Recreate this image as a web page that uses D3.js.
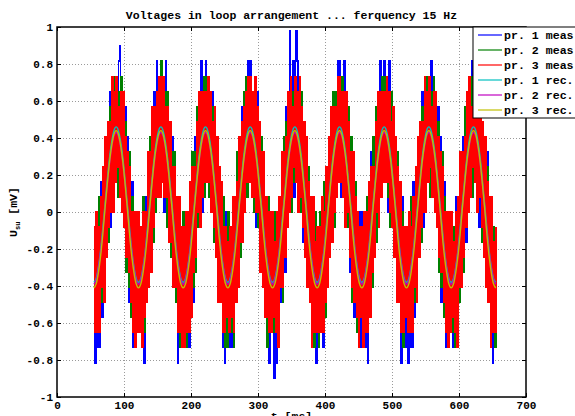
<!DOCTYPE html>
<html>
<head>
<meta charset="utf-8">
<script src="https://cdn.jsdelivr.net/npm/d3@7"></script>
<style>
  body { margin: 0; background: #fff; }
  svg { display: block; font-family: "Liberation Mono", "DejaVu Sans Mono", monospace; font-weight: bold; }
</style>
</head>
<body>
<div id="chart"></div>
<script>
// chart values
let title = "Voltages in loop arrangement ... ferquency 15 Hz";
let xTicks = [0, 100, 200, 300, 400, 500, 600, 700];
let yTicks = [-1, -0.8, -0.6, -0.4, -0.2, 0, 0.2, 0.4, 0.6, 0.8, 1];
let legendNames = ["pr. 1 meas", "pr. 2 meas", "pr. 3 meas", "pr. 1 rec.", "pr. 2 rec.", "pr. 3 rec."];

// sampling of the traces [ms] and the quantisation step of the measured ones [mV]
let tStart = 55;
let measStep = 5 / 3;
let recStep = 10 / 3;
let lsb = 0.0815;

// measured traces, in quantisation steps (one row = one period of 15 Hz)
let meas1 = [
  -1,-10,0,-9,0,-9,2,-7,3,-4,3,-3,6,0,8,-1,8,1,8,2,8,2,10,11,8,0,6,-1,7,-3,5,-6,3,-6,2,-9,-1,-9,-1,-7,
  0,-7,-2,-9,0,-10,1,-5,4,-5,4,-3,5,-1,8,0,10,1,7,3,10,2,8,0,10,1,7,-1,6,-3,5,-5,2,-6,1,-10,1,-9,-2,-9,
  -1,-9,0,-9,-1,-9,1,-5,3,-6,5,-3,6,-1,6,0,10,0,8,2,10,3,7,1,8,0,8,-1,5,-3,4,-4,3,-6,0,-9,0,-10,0,-9,
  -1,-9,-1,-9,1,-9,0,-6,3,-5,5,-3,7,-2,7,0,7,1,10,2,10,2,8,1,8,-1,8,0,6,-3,4,-5,4,-6,1,-7,0,-10,-1,-7,
  0,-11,-1,-10,0,-7,0,-6,4,-5,4,-4,7,-1,7,12,8,1,10,1,10,12,10,1,7,1,7,-2,6,-2,3,-5,3,-5,1,-9,1,-9,-1,-10,
  -2,-9,-1,-7,1,-9,1,-6,2,-5,5,-2,6,-2,7,0,8,2,10,2,10,1,8,1,10,0,7,0,6,-4,4,-5,4,-7,1,-7,0,-9,0,-9,
  0,-7,-2,-9,0,-10,1,-5,4,-5,4,-3,5,-1,8,0,10,1,7,3,10,2,8,0,10,1,7,-1,6,-3,5,-5,2,-6,1,-10,1,-9,-2,-9,
  -1,-10,0,-9,0,-9,2,-7,3,-4,3,-3,6,0,8,-1,8,1,8,2,8,2,10,2,8,0,6,-1,7,-3,5,-6,3,-6,2,-9,-1,-9,-1,-7,
  -1,-9,-1,-9,1,-9,0,-6,3,-5,5,-3,7,-2,7,0,7,1,10,2,10,2,8,1,8,-1,8,0,6,-3,4,-5,4,-6,1,-7,0,-10,-1,-7,
  -1
];
let meas2 = [
  -2,-8,-1,-7,1,-8,1,-6,2,-5,5,-2,6,-2,7,0,8,2,9,2,9,1,8,1,9,0,7,0,6,-4,4,-5,4,-7,1,-7,0,-9,0,-8,
  -1,-8,-1,-8,1,-8,0,-6,3,-5,5,-3,7,-2,7,0,7,1,9,2,10,2,8,1,8,-1,8,0,6,-3,4,-5,4,-6,1,-7,0,-9,-1,-7,
  0,-8,-1,-9,0,-7,0,-6,4,-5,4,-4,7,-1,7,1,8,1,9,1,9,2,9,1,7,1,7,-2,6,-2,3,-5,3,-5,1,-8,1,-9,-1,-9,
  0,-7,-2,-8,0,-9,1,-5,4,-5,4,-3,5,-1,8,0,9,1,7,3,9,2,8,0,9,1,7,-1,6,-3,5,-5,2,-6,1,-9,1,-8,-2,-8,
  -1,-8,0,-8,-1,-8,1,-5,3,-6,5,-3,6,-1,6,0,9,0,8,2,9,3,7,1,8,0,8,-1,5,-3,4,-4,3,-6,0,-8,0,-9,0,-8,
  -1,-9,0,-8,0,-8,2,-7,3,-4,3,-3,6,0,8,-1,8,1,8,2,8,2,9,2,8,0,6,-1,7,-3,5,-6,3,-6,2,-8,-1,-8,-1,-7,
  -1,-8,-1,-8,1,-8,0,-6,3,-5,5,-3,7,-2,7,0,7,1,9,2,9,2,8,1,8,-1,8,0,6,-3,4,-5,4,-6,1,-7,0,-9,-1,-7,
  -2,-8,-1,-7,1,-8,1,-6,2,-5,5,-2,6,-2,7,0,8,2,9,2,9,1,8,1,9,0,7,0,6,-4,4,-5,4,-7,1,-7,0,-8,0,-8,
  0,-8,-1,-9,0,-7,0,-6,4,-5,4,-4,7,-1,7,1,8,1,9,1,9,2,9,1,7,1,7,-2,6,-2,3,-5,3,-5,1,-8,1,-8,-1,-9,
  -1
];
let meas3 = [
  -1,-8,0,-8,-1,-8,1,-5,3,-6,5,-3,6,-1,6,0,9,0,8,2,9,3,7,1,8,0,8,-1,5,-3,4,-4,3,-6,0,-8,0,-9,0,-8,
  0,-8,-1,-9,0,-7,0,-6,4,-5,4,-4,7,-1,7,1,8,1,9,1,9,2,9,1,7,1,7,-2,6,-2,3,-5,3,-5,1,-8,1,-8,-1,-9,
  -1,-9,0,-8,0,-8,2,-7,3,-4,3,-3,6,0,8,-1,8,1,8,2,8,2,9,2,8,0,6,-1,7,-3,5,-6,3,-6,2,-8,-1,-8,-1,-7,
  -2,-8,-1,-7,1,-8,1,-6,2,-5,5,-2,6,-2,7,0,8,2,9,2,9,1,8,1,9,0,7,0,6,-4,4,-5,4,-7,1,-7,0,-8,0,-8,
  0,-7,-2,-8,0,-9,1,-5,4,-5,4,-3,5,-1,8,0,9,1,7,3,9,2,8,0,9,1,7,-1,6,-3,5,-5,2,-6,1,-9,1,-8,-2,-8,
  -1,-8,-1,-8,1,-8,0,-6,3,-5,5,-3,7,-2,7,0,7,1,9,2,9,2,8,1,8,-1,8,0,6,-3,4,-5,4,-6,1,-7,0,-9,-1,-7,
  -1,-9,0,-8,0,-8,2,-7,3,-4,3,-3,6,0,8,-1,8,1,8,2,8,2,9,2,8,0,6,-1,7,-3,5,-6,3,-6,2,-8,-1,-8,-1,-7,
  -1,-8,0,-8,-1,-8,1,-5,3,-6,5,-3,6,-1,6,0,9,0,8,2,9,3,7,1,8,0,8,-1,5,-3,4,-4,3,-6,0,-8,0,-9,0,-8,
  0,-7,-2,-8,0,-9,1,-5,4,-5,4,-3,5,-1,8,0,9,1,7,3,9,2,8,0,9,1,7,-1,6,-3,5,-5,2,-6,1,-9,1,-8,-2,-8,
  -1
];

// reconstructed traces [mV]
let rec1 = [
  -0.38,-0.36,-0.30,-0.21,-0.09,0.04,0.17,0.29,0.38,0.44,0.46,0.44,0.38,0.29,0.17,0.04,-0.09,-0.21,-0.30,-0.36,
  -0.38,-0.36,-0.30,-0.21,-0.09,0.04,0.17,0.29,0.38,0.44,0.46,0.44,0.38,0.29,0.17,0.04,-0.09,-0.21,-0.30,-0.36,
  -0.38,-0.36,-0.30,-0.21,-0.09,0.04,0.17,0.29,0.38,0.44,0.46,0.44,0.38,0.29,0.17,0.04,-0.09,-0.21,-0.30,-0.36,
  -0.38,-0.36,-0.30,-0.21,-0.09,0.04,0.17,0.29,0.38,0.44,0.46,0.44,0.38,0.29,0.17,0.04,-0.09,-0.21,-0.30,-0.36,
  -0.38,-0.36,-0.30,-0.21,-0.09,0.04,0.17,0.29,0.38,0.44,0.46,0.44,0.38,0.29,0.17,0.04,-0.09,-0.21,-0.30,-0.36,
  -0.38,-0.36,-0.30,-0.21,-0.09,0.04,0.17,0.29,0.38,0.44,0.46,0.44,0.38,0.29,0.17,0.04,-0.09,-0.21,-0.30,-0.36,
  -0.38,-0.36,-0.30,-0.21,-0.09,0.04,0.17,0.29,0.38,0.44,0.46,0.44,0.38,0.29,0.17,0.04,-0.09,-0.21,-0.30,-0.36,
  -0.38,-0.36,-0.30,-0.21,-0.09,0.04,0.17,0.29,0.38,0.44,0.46,0.44,0.38,0.29,0.17,0.04,-0.09,-0.21,-0.30,-0.36,
  -0.38,-0.36,-0.30,-0.21,-0.09,0.04,0.17,0.29,0.38,0.44,0.46,0.44,0.38,0.29,0.17,0.04,-0.09,-0.21,-0.30,-0.36,
  -0.38
];
let rec2 = [
  -0.39,-0.37,-0.31,-0.22,-0.11,0.02,0.15,0.26,0.35,0.41,0.43,0.41,0.35,0.26,0.15,0.02,-0.11,-0.22,-0.31,-0.37,
  -0.39,-0.37,-0.31,-0.22,-0.11,0.02,0.15,0.26,0.35,0.41,0.43,0.41,0.35,0.26,0.15,0.02,-0.11,-0.22,-0.31,-0.37,
  -0.39,-0.37,-0.31,-0.22,-0.11,0.02,0.15,0.26,0.35,0.41,0.43,0.41,0.35,0.26,0.15,0.02,-0.11,-0.22,-0.31,-0.37,
  -0.39,-0.37,-0.31,-0.22,-0.11,0.02,0.15,0.26,0.35,0.41,0.43,0.41,0.35,0.26,0.15,0.02,-0.11,-0.22,-0.31,-0.37,
  -0.39,-0.37,-0.31,-0.22,-0.11,0.02,0.15,0.26,0.35,0.41,0.43,0.41,0.35,0.26,0.15,0.02,-0.11,-0.22,-0.31,-0.37,
  -0.39,-0.37,-0.31,-0.22,-0.11,0.02,0.15,0.26,0.35,0.41,0.43,0.41,0.35,0.26,0.15,0.02,-0.11,-0.22,-0.31,-0.37,
  -0.39,-0.37,-0.31,-0.22,-0.11,0.02,0.15,0.26,0.35,0.41,0.43,0.41,0.35,0.26,0.15,0.02,-0.11,-0.22,-0.31,-0.37,
  -0.39,-0.37,-0.31,-0.22,-0.11,0.02,0.15,0.26,0.35,0.41,0.43,0.41,0.35,0.26,0.15,0.02,-0.11,-0.22,-0.31,-0.37,
  -0.39,-0.37,-0.31,-0.22,-0.11,0.02,0.15,0.26,0.35,0.41,0.43,0.41,0.35,0.26,0.15,0.02,-0.11,-0.22,-0.31,-0.37,
  -0.39
];
let rec3 = [
  -0.41,-0.39,-0.33,-0.24,-0.12,0.02,0.15,0.27,0.36,0.42,0.44,0.42,0.36,0.27,0.15,0.02,-0.12,-0.24,-0.33,-0.39,
  -0.41,-0.39,-0.33,-0.24,-0.12,0.02,0.15,0.27,0.36,0.42,0.44,0.42,0.36,0.27,0.15,0.02,-0.12,-0.24,-0.33,-0.39,
  -0.41,-0.39,-0.33,-0.24,-0.12,0.02,0.15,0.27,0.36,0.42,0.44,0.42,0.36,0.27,0.15,0.02,-0.12,-0.24,-0.33,-0.39,
  -0.41,-0.39,-0.33,-0.24,-0.12,0.02,0.15,0.27,0.36,0.42,0.44,0.42,0.36,0.27,0.15,0.02,-0.12,-0.24,-0.33,-0.39,
  -0.41,-0.39,-0.33,-0.24,-0.12,0.02,0.15,0.27,0.36,0.42,0.44,0.42,0.36,0.27,0.15,0.02,-0.12,-0.24,-0.33,-0.39,
  -0.41,-0.39,-0.33,-0.24,-0.12,0.02,0.15,0.27,0.36,0.42,0.44,0.42,0.36,0.27,0.15,0.02,-0.12,-0.24,-0.33,-0.39,
  -0.41,-0.39,-0.33,-0.24,-0.12,0.02,0.15,0.27,0.36,0.42,0.44,0.42,0.36,0.27,0.15,0.02,-0.12,-0.24,-0.33,-0.39,
  -0.41,-0.39,-0.33,-0.24,-0.12,0.02,0.15,0.27,0.36,0.42,0.44,0.42,0.36,0.27,0.15,0.02,-0.12,-0.24,-0.33,-0.39,
  -0.41,-0.39,-0.33,-0.24,-0.12,0.02,0.15,0.27,0.36,0.42,0.44,0.42,0.36,0.27,0.15,0.02,-0.12,-0.24,-0.33,-0.39,
  -0.41
];

let svgWidth = 575;
let svgHeight = 416;
let margin = { top: 27, right: 49, bottom: 19, left: 57 };
let width = svgWidth - margin.left - margin.right;
let height = svgHeight - margin.top - margin.bottom;

let svg = d3.select("#chart").append("svg")
  .attr("width", svgWidth)
  .attr("height", svgHeight);

let chart = svg.append("g")
  .attr("transform", `translate(${margin.left}, ${margin.top})`);

let x = d3.scaleLinear().domain([0, 700]).range([0, width]);
let y = d3.scaleLinear().domain([-1, 1]).range([height, 0]);

// dotted grid
chart.selectAll(".xgrid").data(xTicks.slice(1, -1)).enter().append("line")
  .attr("x1", d => Math.round(x(d)) + 0.5).attr("x2", d => Math.round(x(d)) + 0.5)
  .attr("y1", 0).attr("y2", height)
  .attr("stroke", "#9a9a9a").attr("stroke-dasharray", "1,2");
chart.selectAll(".ygrid").data(yTicks.slice(1, -1)).enter().append("line")
  .attr("y1", d => Math.round(y(d)) + 0.5).attr("y2", d => Math.round(y(d)) + 0.5)
  .attr("x1", 0).attr("x2", width)
  .attr("stroke", "#9a9a9a").attr("stroke-dasharray", "1,2");

// traces
let measLine = d3.line()
  .x((d, i) => x(tStart + i * measStep))
  .y(d => y(d * lsb))
  .curve(d3.curveStepAfter);
let recLine = d3.line()
  .x((d, i) => x(tStart + i * recStep))
  .y(d => y(d))
  .curve(d3.curveMonotoneX);

let measSeries = [
  { values: meas1, color: "#0000ff" },
  { values: meas2, color: "#008000" },
  { values: meas3, color: "#ff0000" }
];
let recSeries = [
  { values: rec1, color: "#00bfbf" },
  { values: rec2, color: "#bf00bf" },
  { values: rec3, color: "#bfbf00" }
];

measSeries.forEach(s => {
  chart.append("path")
    .attr("d", measLine(s.values))
    .attr("fill", "none")
    .attr("stroke", s.color)
    .attr("stroke-width", 1.5)
    .attr("shape-rendering", "crispEdges");
});
recSeries.forEach(s => {
  chart.append("path")
    .attr("d", recLine(s.values))
    .attr("fill", "none")
    .attr("stroke", s.color)
    .attr("stroke-width", 1.4);
});

// axes with inward ticks on all four sides
let fmt = d => (Math.abs(d) < 1e-9 ? "0" : String(+d.toFixed(1)));

chart.append("g")
  .attr("transform", `translate(0, ${height})`)
  .call(d3.axisBottom(x).tickValues(xTicks).tickSize(-4).tickPadding(4).tickFormat(fmt));
chart.append("g")
  .call(d3.axisLeft(y).tickValues(yTicks).tickSize(-4).tickPadding(4).tickFormat(fmt));
chart.append("g")
  .call(d3.axisTop(x).tickValues(xTicks).tickSize(-4).tickFormat(""));
chart.append("g")
  .attr("transform", `translate(${width}, 0)`)
  .call(d3.axisRight(y).tickValues(yTicks).tickSize(-4).tickFormat(""));

chart.selectAll(".domain").remove();
chart.selectAll(".tick line").attr("stroke", "#000");
chart.selectAll(".tick text")
  .attr("fill", "#000")
  .style("font-family", "'Liberation Mono', monospace")
  .style("font-weight", "bold")
  .style("font-size", "11px");

chart.append("rect")
  .attr("width", width).attr("height", height)
  .attr("fill", "none").attr("stroke", "#000").attr("stroke-width", 1.5);

// title and axis labels
svg.append("text")
  .attr("x", margin.left + width / 2).attr("y", 19)
  .attr("text-anchor", "middle")
  .style("font-size", "11.5px")
  .text(title);

svg.append("text")
  .attr("x", margin.left + width / 2).attr("y", 420)
  .attr("text-anchor", "middle")
  .style("font-size", "11.5px")
  .text("t [ms]");

let yLabel = svg.append("text")
  .attr("transform", `translate(17, ${margin.top + height / 2}) rotate(-90)`)
  .attr("text-anchor", "middle")
  .style("font-size", "11.5px");
yLabel.append("tspan").text("U");
yLabel.append("tspan").attr("dy", 3).style("font-size", "7px").text("su");
yLabel.append("tspan").attr("dy", -3).text(" [mV]");

// legend
let legend = svg.append("g").attr("transform", "translate(473, 27)");
legend.append("rect")
  .attr("width", 120).attr("height", 91)
  .attr("fill", "#fff").attr("stroke", "#000").attr("stroke-width", 1);

let legendColors = measSeries.concat(recSeries).map(s => s.color);
let rows = legend.selectAll(".row").data(legendNames).enter().append("g")
  .attr("transform", (d, i) => `translate(0, ${8 + i * 15})`);
rows.append("line")
  .attr("x1", 5).attr("x2", 29)
  .attr("stroke", (d, i) => legendColors[i]).attr("stroke-width", 1.2);
rows.append("text")
  .attr("x", 31).attr("dy", "0.35em")
  .style("font-size", "11.6px")
  .text(d => d);
</script>
</body>
</html>
